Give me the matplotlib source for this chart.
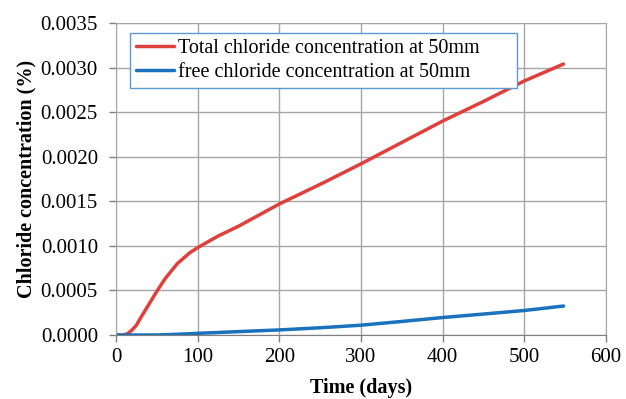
import matplotlib.pyplot as plt

plt.rcParams['font.family'] = ['Liberation Serif', 'DejaVu Serif']

days = [0, 10, 15, 20, 25, 30, 40, 50, 60, 75, 90, 100, 125, 150, 200, 250, 300, 350, 400, 450, 500, 548]
total_cl = [0.0, 0.0, 0.00002, 0.00006, 0.00011, 0.00019, 0.00034, 0.00049, 0.00063, 0.00080, 0.00092, 0.00098,
            0.00111, 0.00122, 0.00147, 0.00169, 0.00192, 0.00216, 0.00240, 0.00262, 0.00285, 0.00304]
free_cl = [0.0, 0.0, 0.0, 0.0, 0.0, 0.0, 0.0, 0.0, 0.000003, 0.000008, 0.000014, 0.000019, 0.000028, 0.000038,
           0.000057, 0.000081, 0.000110, 0.000152, 0.000196, 0.000235, 0.000275, 0.000325]

fig = plt.figure(figsize=(6.26, 3.99), dpi=100)
ax = fig.add_axes([116/626, 1-335/399, 490/626, 312/399])

ax.plot(days, total_cl, c='#e0403c', lw=2.5, label='Total chloride concentration at 50mm', solid_capstyle='round')
ax.plot(days, free_cl, c='#1a72bd', lw=2.5, label='free chloride concentration at 50mm', solid_capstyle='round')

ax.set_xlim(0, 600)
ax.set_ylim(0, 0.0035)
ax.set_xticks(range(0, 601, 100))
ax.set_yticks([i*0.0005 for i in range(8)])
ax.set_yticklabels(['%.4f' % (i*0.0005) for i in range(8)])
ax.grid(True, color='#a6a6a6', lw=1)
ax.set_axisbelow(True)
for s in ax.spines.values():
    s.set_color('#a6a6a6')
ax.spines['bottom'].set_color('#808080')
ax.tick_params(colors='#808080', labelcolor='black', labelsize=15, length=5, width=1)
ax.tick_params(axis='y', pad=8)
ax.tick_params(axis='x', pad=4)

ax.set_xlabel('Time (days)', fontsize=14.5, fontweight='bold', labelpad=8)
ax.set_ylabel('Chloride concentration (%)', fontsize=14.5, fontweight='bold', labelpad=3)

# stretch legend box to the same width as the original
leg = ax.legend(loc='upper left', bbox_to_anchor=(0.029, 0.5, 0.79, 0.468), mode='expand',
                fontsize=14.5, frameon=True, fancybox=False,
                borderpad=0.3, labelspacing=0.25, handlelength=1.85, handletextpad=0.2, borderaxespad=0)
leg.get_frame().set_edgecolor('#5b9bd5')
leg.get_frame().set_linewidth(1)
leg.get_frame().set_alpha(1)

plt.savefig('out.png', dpi=100)
